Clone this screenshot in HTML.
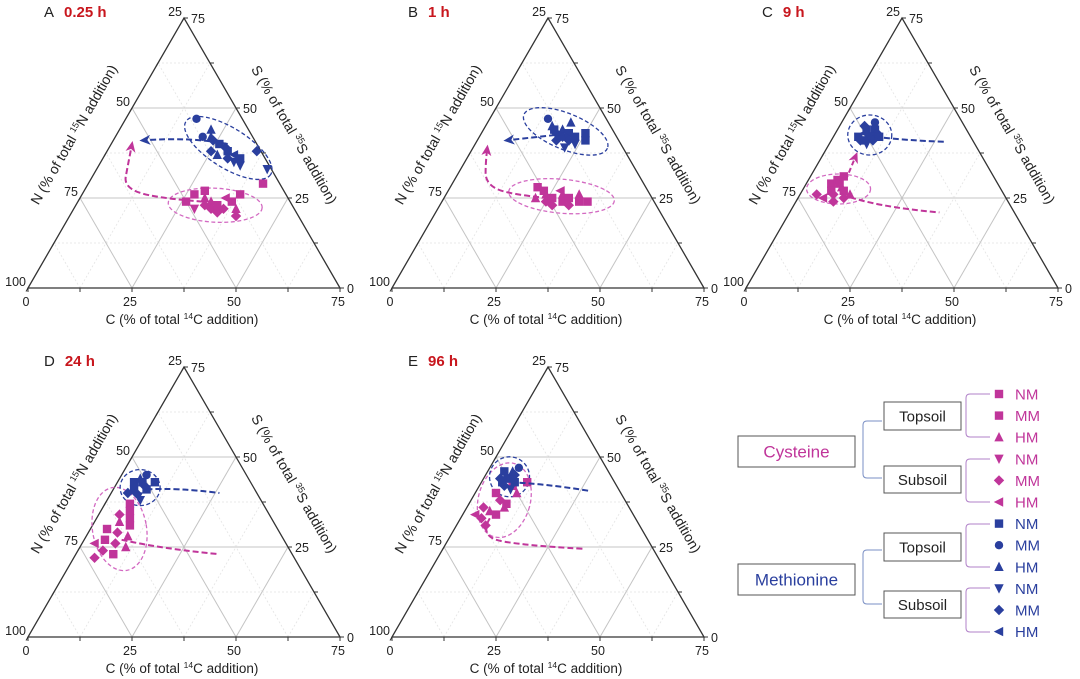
<!DOCTYPE html>
<html><head><meta charset="utf-8"><style>
body{margin:0;background:#fff;}
svg{display:block;font-family:"Liberation Sans",sans-serif;}
</style></head><body>
<svg id="fig" width="1080" height="679" viewBox="0 0 1080 679" xmlns="http://www.w3.org/2000/svg">
<defs>
<marker id="arB" markerUnits="userSpaceOnUse" markerWidth="11" markerHeight="10" refX="8" refY="5" orient="auto"><path d="M0,0 L11,5 L0,10 L3,5 Z" fill="#2a3f9e"/></marker>
<marker id="arM" markerUnits="userSpaceOnUse" markerWidth="11" markerHeight="10" refX="8" refY="5" orient="auto"><path d="M0,0 L11,5 L0,10 L3,5 Z" fill="#c0359a"/></marker>
</defs>
<g id="panels"></g>
<g id="legend"></g>
</svg>
<script>
// Panel identity
const panelLetters = ['A','B','C','D','E'];
const panelTimes = ['0.25 h','1 h','9 h','24 h','96 h'];
// Cysteine (magenta) points: [C %, S %, marker]
const cysA = [[27,26,'sq'],[29,27,'sq'],[26,24,'sq'],[30,25,'tr'],[31,23,'di'],[32,24,'tr'],[33,22,'di'],[34,23,'sq'],[35,21,'di'],[36,22,'di'],[37,24,'sq'],[38,26,'sq'],[39,22,'tr'],[40,20,'di'],[35,25,'tl'],[29,22,'td'],[42,29,'sq']];
const cysB = [[21,28,'sq'],[23,27,'sq'],[22,25,'tr'],[24,26,'tr'],[25,24,'di'],[26,25,'sq'],[27,23,'di'],[28,26,'tr'],[29,24,'sq'],[30,25,'sq'],[31,23,'di'],[32,26,'tr'],[33,24,'sq'],[35,24,'sq'],[27,27,'tl']];
const cysC = [[6,29,'sq'],[7,30,'sq'],[8,29,'sq'],[9,28,'tr'],[7,27,'sq'],[8,26,'di'],[10,27,'sq'],[6,25,'tl'],[4,26,'di'],[9,24,'di'],[11,25,'di'],[12,26,'tr'],[8,31,'sq']];
const cysD = [[6,37,'sq'],[7,35,'sq'],[5,34,'di'],[8,33,'sq'],[6,32,'tr'],[9,31,'sq'],[4,30,'sq'],[7,29,'di'],[10,28,'tr'],[5,27,'sq'],[8,26,'di'],[3,26,'tl'],[6,24,'di'],[11,25,'tr'],[9,23,'sq'],[5,22,'di']];
const cysE = [[6,44,'sq'],[8,42,'sq'],[10,40,'tr'],[5,40,'sq'],[7,38,'di'],[9,37,'sq'],[4,36,'di'],[6,35,'tr'],[8,34,'sq'],[5,33,'di'],[3,34,'tl'],[11,43,'sq'],[7,31,'di'],[9,36,'tr']];
// Methionine (blue) points
const metA = [[17,47,'ci'],[22,44,'tr'],[21,42,'ci'],[23,42,'tr'],[24,41,'di'],[26,40,'sq'],[25,38,'di'],[28,39,'di'],[27,37,'tr'],[29,38,'sq'],[30,36,'di'],[31,37,'tl'],[32,35,'td'],[34,34,'td'],[33,36,'sq'],[41,33,'td'],[36,38,'di']];
const metB = [[14,47,'ci'],[16,45,'tr'],[17,44,'sq'],[18,43,'di'],[19,44,'tr'],[20,42,'di'],[21,43,'sq'],[22,41,'di'],[23,42,'sq'],[24,40,'td'],[19,41,'di'],[25,43,'sq'],[26,41,'sq'],[20,46,'tr'],[22,39,'td']];
const metC = [[6,45,'di'],[7,44,'sq'],[8,43,'tr'],[9,44,'sq'],[10,43,'di'],[6,42,'sq'],[7,41,'di'],[8,41,'sq'],[9,42,'sq'],[10,41,'di'],[11,42,'sq'],[8,46,'ci'],[9,40,'td'],[7,43,'tl']];
const metD = [[4,43,'sq'],[5,44,'tr'],[6,43,'sq'],[7,42,'di'],[5,41,'sq'],[6,40,'di'],[8,41,'sq'],[7,39,'td'],[4,40,'di'],[9,43,'sq'],[6,45,'ci'],[8,38,'td']];
const metE = [[4,46,'sq'],[5,45,'tr'],[6,44,'sq'],[7,45,'di'],[5,43,'sq'],[6,42,'di'],[8,43,'sq'],[4,44,'di'],[7,47,'ci'],[8,41,'td'],[6,46,'tr']];
// Ellipse centres [C,S]
const cysEllCenter = [[33.5,23],[28,25.5],[8.5,27.5],[7,30],[8,38]];
const metEllCenter = [[28.7,38.9],[20,43.5],[8.5,42.5],[6.2,41.5],[6,44.5]];
// Trajectory paths [C,S]
const metPath = [[[28,40],[18,42],[7,41]],[[22,43],[14,42],[7,41]],[[10,42],[18,41],[27.5,40.6]],[[8,41],[15,41.5],[26,40]],[[7,43],[16,42.5],[27,40.6]]];
const cysPath = [[[30,24],[18,25],[9,28],[7,34],[5,40]],[[25,25],[15,26],[8,29],[5,35],[3.4,39]],[[10,26],[20,22.5],[36,21]],[[9,27],[20,24.5],[34.5,23]],[[7,33],[7,28],[18,25.5],[33.6,24.5]]];
const cysArrow = [true,true,false,false,false];
const metArrow = [true,true,false,false,false];
const cTicks = [0,25,50,75];
const nTicks = [100,75,50,25];
const sTicks = [0,25,50,75];

// styling / layout (not data)
const offsets = [[0,0],[364,0],[718,0],[0,349],[364,349]];
const ellSize = [[[47,17,3],[50,20,32]],[[53,17,5],[45,18,22]],[[32,15,0],[22,20,0]],[[27,42,-10],[20,18,0]],[[26,38,15],[20,20,0]]];
const BLUE='#2a3f9e', MAG='#c0359a';
const NS='http://www.w3.org/2000/svg';
const L=28,B=288,W=312,H=270;
function toXY(c,s){const sp=s/75, cp=c/75;return [L+W*(cp+sp/2), B-H*sp];}
function mk(tag,attrs,parent){const e=document.createElementNS(NS,tag);for(const k in attrs)e.setAttribute(k,attrs[k]);parent.appendChild(e);return e;}
function marker(g,shape,x,y,col){
  const r=4.2;let e;
  if(shape==='sq') e=mk('rect',{x:x-r,y:y-r,width:2*r,height:2*r,fill:col},g);
  else if(shape==='ci') e=mk('circle',{cx:x,cy:y,r:r,fill:col},g);
  else {let p;
    if(shape==='tr')p=[[x,y-r-1],[x+r+0.5,y+r],[x-r-0.5,y+r]];
    else if(shape==='td')p=[[x,y+r+1],[x+r+0.5,y-r],[x-r-0.5,y-r]];
    else if(shape==='tl')p=[[x-r-1,y],[x+r,y-r-0.5],[x+r,y+r+0.5]];
    else p=[[x,y-r-1],[x+r+1,y],[x,y+r+1],[x-r-1,y]];
    e=mk('polygon',{points:p.map(q=>q.join(',')).join(' '),fill:col},g);}
  return e;
}
function smoothPath(pts){
  const P=pts.map(p=>toXY(p[0],p[1]));
  let d='M'+P[0][0].toFixed(1)+','+P[0][1].toFixed(1);
  if(P.length===2) return d+' L'+P[1].join(',');
  for(let i=1;i<P.length-1;i++){const mx=(P[i][0]+P[i+1][0])/2,my=(P[i][1]+P[i+1][1])/2;
    const end=(i===P.length-2)?P[i+1]:[mx,my];
    d+=' Q'+P[i][0].toFixed(1)+','+P[i][1].toFixed(1)+' '+end[0].toFixed(1)+','+end[1].toFixed(1);}
  return d;
}
const panelsG=document.getElementById('panels');
const cysSets=[cysA,cysB,cysC,cysD,cysE], metSets=[metA,metB,metC,metD,metE];
for(let p=0;p<5;p++){
  const g=mk('g',{transform:`translate(${offsets[p][0]},${offsets[p][1]})`},panelsG);
  
  
  const grid=mk('g',{},g);
  
  
  for(let v=12.5;v<75;v+=12.5){
    const major=(v===25||v===50);
    const st={stroke:major?'#c4c4c4':'#e4e4e4','stroke-width':major?1:0.8};
    if(!major) st['stroke-dasharray']='2,2';
    let a=toXY(v,0),b=toXY(v,75-v);mk('line',Object.assign({x1:a[0],y1:a[1],x2:b[0],y2:b[1]},st),grid);
    a=toXY(0,v);b=toXY(75-v,v);mk('line',Object.assign({x1:a[0],y1:a[1],x2:b[0],y2:b[1]},st),grid);
    a=toXY(v,0);b=toXY(0,v);mk('line',Object.assign({x1:a[0],y1:a[1],x2:b[0],y2:b[1]},st),grid);
  }
  const A0=toXY(0,0),A1=toXY(75,0),A2=toXY(0,75);
  const tri=mk('polygon',{points:[A0,A1,A2].map(q=>q.join(',')).join(' '),fill:'none',stroke:'#333','stroke-width':1.3},g);
  
  
  for(let v=0;v<=75;v+=12.5){
    let a=toXY(v,0);mk('line',{x1:a[0],y1:a[1],x2:a[0],y2:a[1]+4,stroke:'#333'},g);
    a=toXY(75-v,v);mk('line',{x1:a[0],y1:a[1],x2:a[0]+4,y2:a[1],stroke:'#333'},g);
    a=toXY(0,v);mk('line',{x1:a[0],y1:a[1],x2:a[0]-2,y2:a[1]+3.5,stroke:'#333'},g);
  }
  const tl=mk('g',{'font-size':12.5,fill:'#222'},g);
  
  
  cTicks.forEach(v=>{const a=toXY(v,0);const t=mk('text',{x:a[0]-2,y:a[1]+18,'text-anchor':'middle'},tl);t.textContent=v;});
  nTicks.forEach(v=>{const k=100-v;const a=toXY(0,k);const t=mk('text',{x:a[0]-2,y:a[1]-2,'text-anchor':'end'},tl);t.textContent=v;});
  sTicks.forEach(v=>{const a=toXY(75-v,v);const t=mk('text',{x:a[0]+7,y:a[1]+5},tl);t.textContent=v;});
  let t=mk('text',{x:A0[0]+(A1[0]-A0[0])/2-2,y:B+36,'text-anchor':'middle','font-size':13.5,fill:'#222'},g);
  t.innerHTML='C (% of total <tspan font-size="8.5" dy="-5">14</tspan><tspan dy="5">C addition)</tspan>';
  
  const lm=toXY(0,37.5);
  t=mk('text',{x:0,y:0,'text-anchor':'middle','font-size':14,fill:'#222',transform:`translate(${lm[0]-28},${lm[1]-16}) rotate(-60)`},g);
  t.innerHTML='N (% of total <tspan font-size="9" dy="-5">15</tspan><tspan dy="5">N addition)</tspan>';
  
  const rm=toXY(37.5,37.5);
  t=mk('text',{x:0,y:0,'text-anchor':'middle','font-size':14,fill:'#222',transform:`translate(${rm[0]+28},${rm[1]-16}) rotate(60)`},g);
  t.innerHTML='S (% of total <tspan font-size="9" dy="-5">35</tspan><tspan dy="5">S addition)</tspan>';
  
  t=mk('text',{x:44,y:17,'font-size':15,fill:'#222'},g);
  t.innerHTML=panelLetters[p]+'<tspan dx="10" fill="#c8161d" font-weight="bold">'+panelTimes[p]+'</tspan>';
  
  [[cysEllCenter[p],ellSize[p][0],'#d36ac2'],[metEllCenter[p],ellSize[p][1],BLUE]].forEach((e,i)=>{
    const c=toXY(e[0][0],e[0][1]);
    const el=mk('ellipse',{cx:c[0],cy:c[1],rx:e[1][0],ry:e[1][1],fill:'none',stroke:e[2],'stroke-width':1.3,'stroke-dasharray':'4,2.5',transform:`rotate(${e[1][2]} ${c[0]} ${c[1]})`},g);
    
    
  });
  const pc=mk('g',{},g);
  
  cysSets[p].forEach(q=>{const a=toXY(q[0],q[1]);const m=marker(pc,q[2],a[0],a[1],MAG);
    
    });
  const pm=mk('g',{},g);
  
  metSets[p].forEach(q=>{const a=toXY(q[0],q[1]);const m=marker(pm,q[2],a[0],a[1],BLUE);
    
    });
  let pa=mk('path',{d:smoothPath(cysPath[p]),fill:'none',stroke:MAG,'stroke-width':2,'stroke-dasharray':'6,3'},g);
  if(cysArrow[p])pa.setAttribute('marker-end','url(#arM)');
  
  pa=mk('path',{d:smoothPath(metPath[p]),fill:'none',stroke:BLUE,'stroke-width':2,'stroke-dasharray':'6,3'},g);
  if(metArrow[p])pa.setAttribute('marker-end','url(#arB)');
  
  if(p===2){const a=toXY(9,30),b=toXY(8,37);
    pa=mk('path',{d:`M${a[0]},${a[1]} L${b[0]},${b[1]}`,stroke:MAG,'stroke-width':2,'stroke-dasharray':'5,3','marker-end':'url(#arM)'},g);
    }
}
const lg=document.getElementById('legend');
function box(x,y,w,h,txt,col,fs,name){
  const r=mk('rect',{x:x,y:y,width:w,height:h,fill:'#fff',stroke:'#555','stroke-width':1},lg);
  
  const t=mk('text',{x:x+w/2,y:y+h/2+fs*0.36,'text-anchor':'middle','font-size':fs,fill:col},lg);
  t.textContent=txt;
}
box(738,436,117,31,'Cysteine',MAG,17,'cysteine');
box(738,564,117,31,'Methionine',BLUE,17,'methionine');
box(884,402,77,28,'Topsoil','#222',15,'cys-topsoil');
box(884,466,77,27,'Subsoil','#222',15,'cys-subsoil');
box(884,533,77,28,'Topsoil','#222',15,'met-topsoil');
box(884,591,77,27,'Subsoil','#222',15,'met-subsoil');
function br(x,y1,y2,xe,col){mk('path',{d:`M${xe},${y1} L${x+4},${y1} Q${x},${y1} ${x},${y1+4} L${x},${y2-4} Q${x},${y2} ${x+4},${y2} L${xe},${y2}`,fill:'none',stroke:col,'stroke-width':1},lg);}
br(863,421,478,882,'#7a8fc4');br(863,550,604,882,'#7a8fc4');
br(966,394,437,990,'#b080c8');br(966,459,502,990,'#b080c8');br(966,524,567,990,'#b080c8');br(966,588,632,990,'#b080c8');
const legShapes=['sq','sq','tr','td','di','tl','sq','ci','tr','td','di','tl'];
const legText=['NM','MM','HM','NM','MM','HM','NM','MM','HM','NM','MM','HM'];
legShapes.forEach((s,i)=>{
  const y=394+i*21.6, col=i<6?MAG:BLUE;
  const m=marker(lg,s,999,y,col);
  
  
  const t=mk('text',{x:1015,y:y+5.5,'font-size':15,fill:col},lg);t.textContent=legText[i];
  
  
});
</script>
</body></html>
